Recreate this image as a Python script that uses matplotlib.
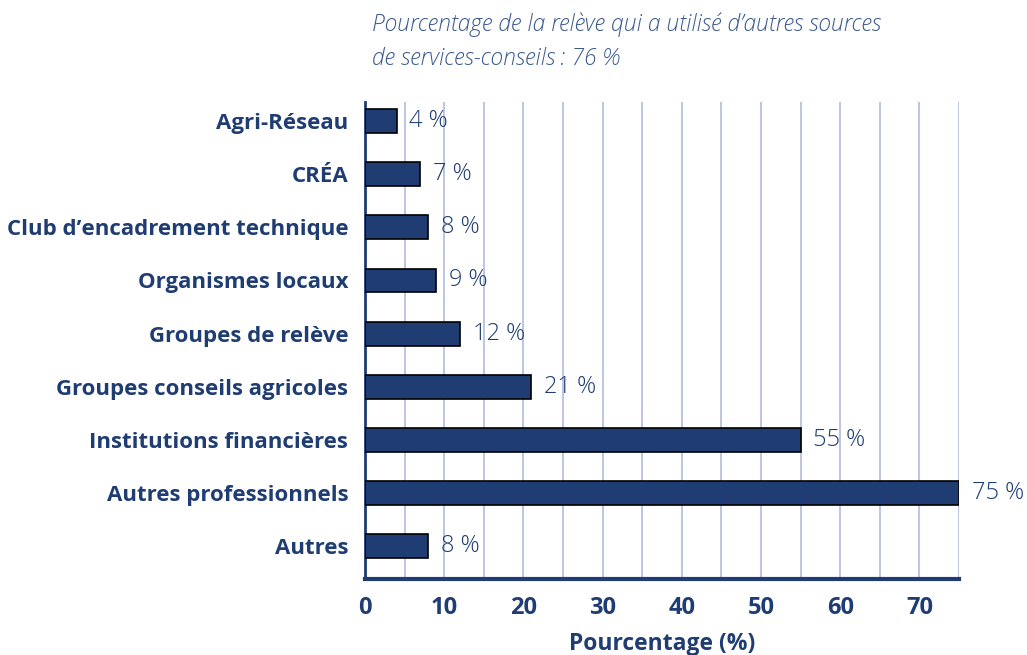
import matplotlib.pyplot as plt
import numpy as np

categories = ['Agri-Réseau', 'CRÉA', 'Club d\u2019encadrement technique', 'Organismes locaux',
              'Groupes de relève', 'Groupes conseils agricoles', 'Institutions financières',
              'Autres professionnels', 'Autres']
values = [4, 7, 8, 9, 12, 21, 55, 75, 8]
xticks = [0, 10, 20, 30, 40, 50, 60, 70]

navy = '#1f3d72'
grid_col = '#b8c2de'

plt.rcParams['font.family'] = ['Open Sans', 'DejaVu Sans']

fig = plt.figure(figsize=(10.27, 6.55), dpi=100)
ax = fig.add_axes([0.3554, 0.1160, 0.5784, 0.7283])

y = np.arange(len(categories))
ax.barh(y, values, height=0.45, color=navy, edgecolor='black', linewidth=1.2, zorder=3)

for yi, v in zip(y, values):
    ax.text(v + 1.6, yi, f'{v} %', va='center', ha='left', fontsize=17,
            color=navy, fontweight='light')

ax.set_xlim(0, 75)
ax.set_ylim(8.62, -0.36)
ax.set_yticks(y)
ax.set_yticklabels(categories, fontsize=16, fontweight='bold', color=navy)
ax.set_xticks(xticks)
ax.set_xticklabels([str(t) for t in xticks], fontsize=17, fontweight='bold', color=navy)
ax.set_xticks(np.arange(0, 76, 5), minor=True)
ax.grid(axis='x', which='both', color=grid_col, linewidth=1.3, zorder=0)
ax.tick_params(axis='both', which='both', length=0)
ax.tick_params(axis='x', pad=12)
ax.tick_params(axis='y', pad=12)

for s in ['top', 'right']:
    ax.spines[s].set_visible(False)
ax.spines['left'].set_color(navy)
ax.spines['left'].set_linewidth(2)
ax.spines['bottom'].set_color(navy)
ax.spines['bottom'].set_linewidth(3)

ax.set_xlabel('Pourcentage (%)', fontsize=16.5, fontweight='bold', color=navy, labelpad=9)

fig.text(0.362, 0.962, 'Pourcentage de la relève qui a utilisé d\u2019autres sources',
         fontsize=16.5, style='italic', fontweight='light', color='#3b5a8f', va='center')
fig.text(0.362, 0.910, 'de services-conseils\u202f: 76 %',
         fontsize=16.5, style='italic', fontweight='light', color='#3b5a8f', va='center')

fig.savefig('out.png', dpi=100)
